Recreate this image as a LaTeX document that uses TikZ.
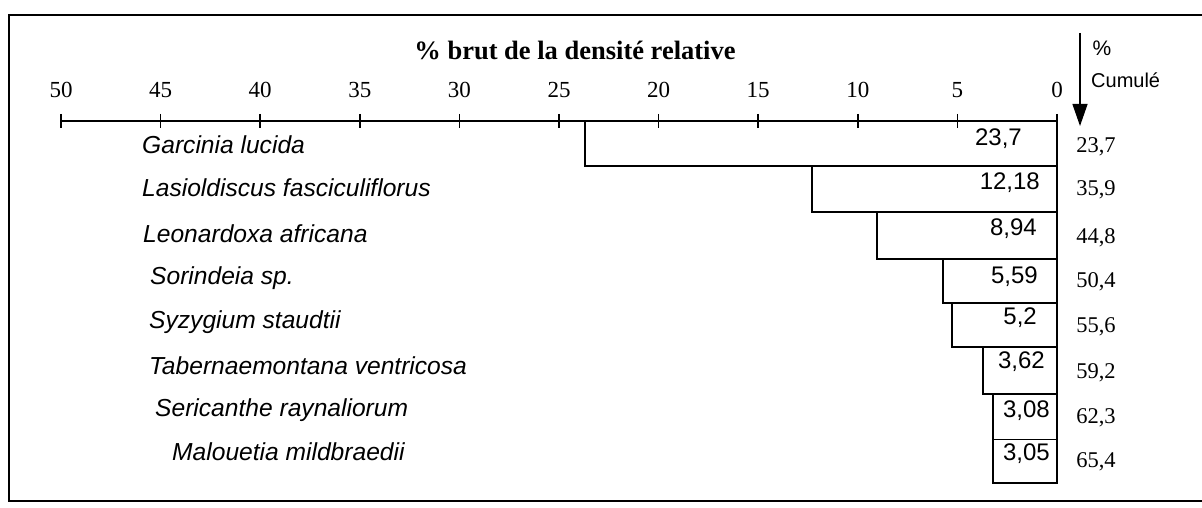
\documentclass[tikz,border=0pt]{standalone}
\usepackage{fontspec}
\setmainfont{Liberation Serif}
\setsansfont{Liberation Sans}
\usetikzlibrary{arrows.meta}
\begin{document}
\begin{tikzpicture}[x=1pt,y=-1pt,
  sp/.style={font=\sffamily\itshape\fontsize{24.6}{28}\selectfont, anchor=west, inner sep=0pt},
  val/.style={font=\sffamily\fontsize{24}{28}\selectfont, anchor=east, inner sep=0pt},
  cum/.style={font=\rmfamily\fontsize{22.5}{26}\selectfont, inner sep=0pt},
  ticklab/.style={font=\rmfamily\fontsize{23}{26}\selectfont, inner sep=0pt},
  bar/.style={draw, line width=1.6pt},
  frameline/.style={line width=2.5pt}]
\useasboundingbox (0,0) rectangle (1202,508);
\fill[white] (0,0) rectangle (1202,508);
% frame
\draw[frameline] (1202,15) -- (9,15) -- (9,501) -- (1202,501);
% title
\node[font=\rmfamily\bfseries\fontsize{26.5}{30}\selectfont, inner sep=0pt] (title) at (575,50) {\% brut de la densité relative};
% axis
\draw[line width=1.8pt] (61,121) -- (1057,121);
\foreach \v [count=\i] in {0,5,...,50} {
  \draw[line width=1.6pt] ({1057-19.92*\v},114) -- ++(0,14);
  \node[ticklab] (t\i) at ({1057-19.92*\v},90) {\v};
}
% bars
\draw[bar] (585,121) rectangle (1057,166);
\draw[bar] (812,166) rectangle (1057,212);
\draw[bar] (877,212) rectangle (1057,259);
\draw[bar] (943,259) rectangle (1057,303);
\draw[bar] (952,303) rectangle (1057,347);
\draw[bar] (983,347) rectangle (1057,394);
\draw[bar] (993,394) rectangle (1057,483);
\draw[line width=0.7pt] (993,439) -- (1057,439);
% values in bars
\node[val] (v1) at (1022,139) {23,7};
\node[val] (v2) at (1040,183) {12,18};
\node[val] (v3) at (1037,229) {8,94};
\node[val] (v4) at (1038,277) {5,59};
\node[val] (v5) at (1037,318) {5,2};
\node[val] (v6) at (1045,362) {3,62};
\node[val] (v7) at (1050,411) {3,08};
\node[val] (v8) at (1050,454) {3,05};
% species
\node[sp] (s1) at (142,145) {Garcinia lucida};
\node[sp] (s2) at (142,188) {Lasioldiscus fasciculiflorus};
\node[sp] (s3) at (143,234) {Leonardoxa africana};
\node[sp] (s4) at (150,278) {Sorindeia sp.};
\node[sp] (s5) at (149,322) {Syzygium staudtii};
\node[sp] (s6) at (149,366) {Tabernaemontana ventricosa};
\node[sp] (s7) at (155,410) {Sericanthe raynaliorum};
\node[sp] (s8) at (172,452) {Malouetia mildbraedii};
% cumulative
\node[cum] (c1) at (1096,147) {23,7};
\node[cum] (c2) at (1096,190) {35,9};
\node[cum] (c3) at (1096,238) {44,8};
\node[cum] (c4) at (1096,282) {50,4};
\node[cum] (c5) at (1096,327) {55,6};
\node[cum] (c6) at (1096,373) {59,2};
\node[cum] (c7) at (1096,418) {62,3};
\node[cum] (c8) at (1096,462) {65,4};
% cumulative header
\node[font=\sffamily\fontsize{21}{24}\selectfont, inner sep=0pt] (pct) at (1102,48) {\%};
\node[font=\sffamily\fontsize{20}{24}\selectfont, inner sep=0pt, anchor=west] (cumule) at (1091,80) {Cumulé};
\coordinate (atop) at (1080,33);
\coordinate (atip) at (1080,126);
\draw[line width=1.2pt, -{Triangle[width=15pt,length=22pt]}] (atop) -- (atip);
\end{tikzpicture}
\end{document}
